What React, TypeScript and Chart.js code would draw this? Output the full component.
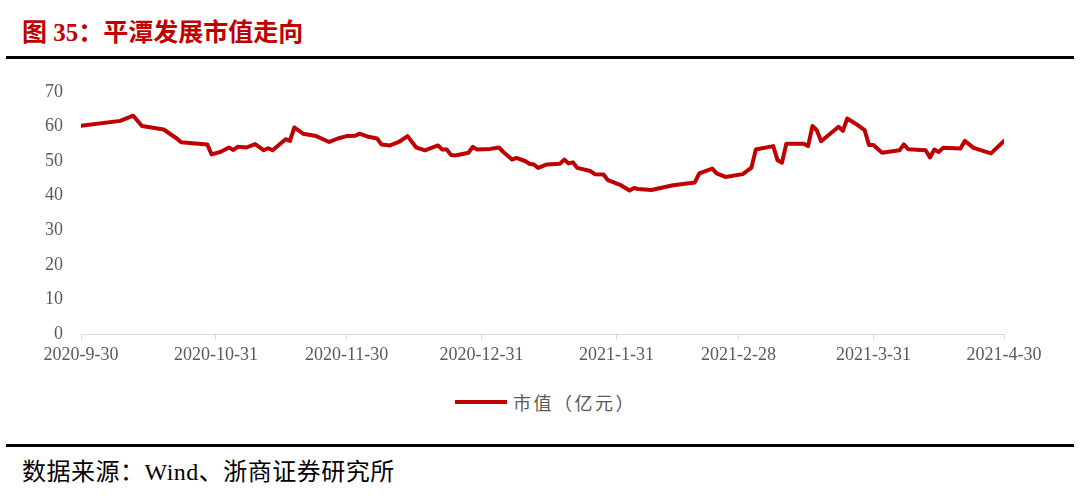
import React, { useEffect, useRef } from "react";
import { Chart, registerables } from "chart.js";

Chart.register(...registerables);

const titleText = "图 35：平潭发展市值走向";
const sourceText = "数据来源：Wind、浙商证券研究所";
const seriesName = "市值（亿元）";

const tickLabels = [
  "2020-9-30",
  "2020-10-31",
  "2020-11-30",
  "2020-12-31",
  "2021-1-31",
  "2021-2-28",
  "2021-3-31",
  "2021-4-30",
];

const tradeDates = [
  "2020-9-30", "2020-10-9", "2020-10-12", "2020-10-14", "2020-10-19", "2020-10-22", "2020-10-23",
  "2020-10-27", "2020-10-29", "2020-10-30", "2020-11-1", "2020-11-3", "2020-11-4", "2020-11-5",
  "2020-11-7", "2020-11-9", "2020-11-11", "2020-11-12", "2020-11-13", "2020-11-16", "2020-11-17",
  "2020-11-18", "2020-11-20", "2020-11-23", "2020-11-26", "2020-11-28", "2020-11-30",
  "2020-12-2", "2020-12-3", "2020-12-5", "2020-12-7", "2020-12-8", "2020-12-10", "2020-12-12",
  "2020-12-14", "2020-12-16", "2020-12-17", "2020-12-18", "2020-12-21", "2020-12-22", "2020-12-23",
  "2020-12-24", "2020-12-25", "2020-12-28", "2020-12-29", "2020-12-30",
  "2021-1-2", "2021-1-4", "2021-1-5", "2021-1-7", "2021-1-8", "2021-1-10", "2021-1-11", "2021-1-12",
  "2021-1-13", "2021-1-15", "2021-1-18", "2021-1-19", "2021-1-20", "2021-1-21", "2021-1-22",
  "2021-1-25", "2021-1-26", "2021-1-28", "2021-1-29",
  "2021-2-1", "2021-2-3", "2021-2-4", "2021-2-5", "2021-2-8", "2021-2-13", "2021-2-18", "2021-2-19",
  "2021-2-22", "2021-2-23", "2021-2-25",
  "2021-3-1", "2021-3-3", "2021-3-4", "2021-3-8", "2021-3-9", "2021-3-10", "2021-3-11", "2021-3-15",
  "2021-3-16", "2021-3-17", "2021-3-18", "2021-3-19", "2021-3-23", "2021-3-24", "2021-3-25",
  "2021-3-27", "2021-3-29", "2021-3-30", "2021-3-31",
  "2021-4-2", "2021-4-6", "2021-4-7", "2021-4-8", "2021-4-12", "2021-4-13", "2021-4-14", "2021-4-15",
  "2021-4-16", "2021-4-20", "2021-4-21", "2021-4-23", "2021-4-27", "2021-4-30",
];

const marketCap = [
  60.2, 61.6, 63.1, 60.1, 59.1, 56.5, 55.4,
  55.0, 54.8, 51.9, 52.6, 53.9, 53.2, 54.1,
  53.9, 54.9, 53.1, 53.7, 53.1, 56.3, 55.8,
  59.7, 57.9, 57.2, 55.5, 56.5, 57.2,
  57.3, 57.9, 57.0, 56.5, 54.8, 54.5, 55.5,
  57.2, 53.9, 53.5, 53.1, 54.5, 53.3, 53.3,
  51.7, 51.6, 52.4, 54.1, 53.3,
  53.5, 53.9, 52.6, 50.4, 50.9, 50.0, 49.2, 49.0,
  48.0, 49.0, 49.2, 50.4, 49.3, 49.6, 48.0,
  47.1, 46.2, 46.1, 44.5,
  43.0, 41.5, 42.2, 41.9, 41.6, 43.0, 43.8, 46.4,
  47.8, 46.4, 45.4,
  46.2, 48.1, 53.3, 54.3, 50.2, 49.5, 55.0, 55.0,
  54.3, 60.1, 58.9, 55.7, 59.9, 58.7, 62.3,
  60.7, 58.9, 54.6, 54.6,
  52.4, 53.1, 54.8, 53.4, 53.1, 51.0, 53.3, 52.6,
  53.8, 53.6, 55.8, 53.8, 52.2, 55.8,
];

const yMin = 0;
const yMax = 70;
const yStep = 10;

const LINE_COLOR = "#C00000";
const TEXT_GRAY = "#595959";

function toDay(s: string): number {
  const [y, m, d] = s.split("-").map(Number);
  const base = Date.UTC(2020, 8, 30);
  return Math.round((Date.UTC(y, m - 1, d) - base) / 86400000);
}

export default function App() {
  const canvasRef = useRef<HTMLCanvasElement | null>(null);

  useEffect(() => {
    document.body.style.margin = "0";
    const canvas = canvasRef.current;
    if (!canvas) return;
    const tickDays = tickLabels.map(toDay);
    const points = tradeDates.map((d, i) => ({ x: toDay(d), y: marketCap[i] }));
    const serif = '"Liberation Serif", "Times New Roman", serif';

    const chart = new Chart(canvas, {
      type: "line",
      data: {
        datasets: [
          {
            label: seriesName,
            data: points,
            borderColor: LINE_COLOR,
            backgroundColor: LINE_COLOR,
            borderWidth: 4,
            pointRadius: 0,
            tension: 0,
            borderJoinStyle: "round",
            borderCapStyle: "round",
          },
        ],
      },
      options: {
        animation: false,
        responsive: false,
        maintainAspectRatio: false,
        layout: { padding: { top: 13, right: 76, left: 0, bottom: 0 } },
        plugins: { legend: { display: false }, tooltip: { enabled: false } },
        scales: {
          x: {
            type: "linear",
            min: tickDays[0],
            max: tickDays[tickDays.length - 1],
            afterBuildTicks: (scale: any) => {
              scale.ticks = tickDays.map((v) => ({ value: v }));
            },
            afterFit: (scale: any) => {
              scale.height = 38;
            },
            ticks: {
              autoSkip: false,
              maxRotation: 0,
              padding: 4,
              color: TEXT_GRAY,
              font: { family: serif, size: 18 },
              callback: (v: any) => {
                const idx = tickDays.indexOf(Number(v));
                return idx >= 0 ? tickLabels[idx] : "";
              },
            },
            grid: {
              drawOnChartArea: false,
              drawTicks: true,
              tickLength: 6,
              color: "#D9D9D9",
            },
            border: { display: true, color: "#D9D9D9", width: 1 },
          },
          y: {
            min: yMin,
            max: yMax,
            afterFit: (scale: any) => {
              scale.width = 81;
            },
            ticks: {
              stepSize: yStep,
              padding: 18,
              color: TEXT_GRAY,
              font: { family: serif, size: 18 },
            },
            grid: { display: false, drawTicks: false },
            border: { display: false },
          },
        },
      },
    } as any);

    return () => chart.destroy();
  }, []);

  const cjk = '"Liberation Serif", "Noto Sans CJK SC", serif';

  return (
    <div style={{ position: "relative", width: 1080, height: 498, background: "#fff", overflow: "hidden" }}>
      <div
        style={{
          position: "absolute",
          left: 22,
          top: 19,
          fontFamily: cjk,
          fontWeight: "bold",
          fontSize: 25,
          lineHeight: "28px",
          color: "#C00000",
          whiteSpace: "nowrap",
        }}
      >
        {titleText}
      </div>
      <div style={{ position: "absolute", left: 6, top: 56, width: 1068, height: 3, background: "#000" }} />
      <canvas
        ref={canvasRef}
        width={1080}
        height={309}
        style={{ position: "absolute", left: 0, top: 63, width: 1080, height: 309 }}
      />
      <div style={{ position: "absolute", left: 455, top: 400, width: 52, height: 4, background: LINE_COLOR }} />
      <div
        style={{
          position: "absolute",
          left: 513,
          top: 391,
          fontFamily: '"Noto Sans CJK SC", sans-serif',
          fontSize: 18,
          letterSpacing: 2.5,
          lineHeight: "22px",
          color: TEXT_GRAY,
          whiteSpace: "nowrap",
        }}
      >
        {seriesName}
      </div>
      <div style={{ position: "absolute", left: 6, top: 444, width: 1068, height: 3, background: "#000" }} />
      <div
        style={{
          position: "absolute",
          left: 22,
          top: 458,
          fontFamily: cjk,
          fontSize: 24,
          letterSpacing: 0.5,
          lineHeight: "28px",
          color: "#000",
          whiteSpace: "nowrap",
        }}
      >
        {sourceText}
      </div>
    </div>
  );
}
